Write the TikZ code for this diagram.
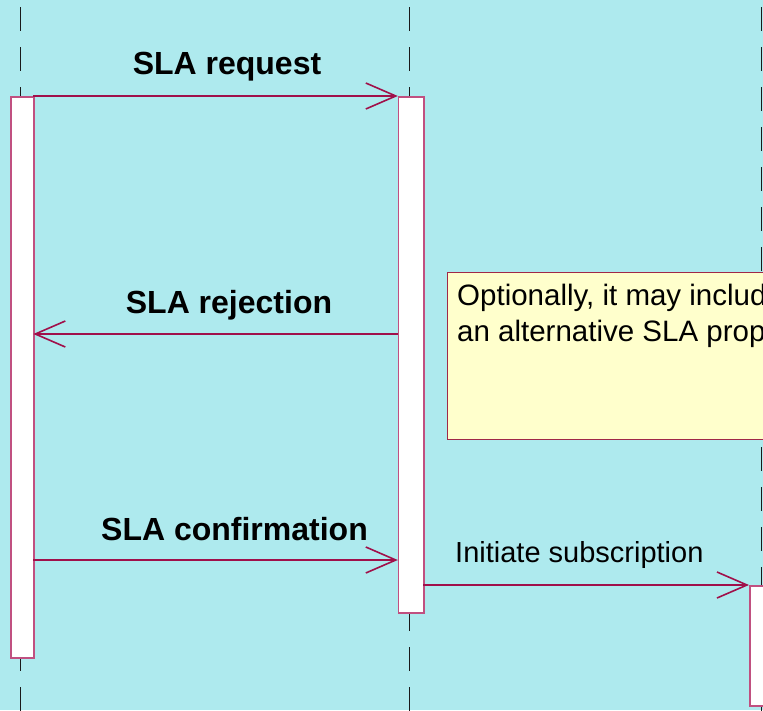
\documentclass[tikz,border=0pt]{standalone}
\usepackage{fontspec}
\setmainfont{Liberation Sans}
\usetikzlibrary{arrows.meta}
\definecolor{bgcyan}{HTML}{AEEAEE}
\definecolor{msgred}{HTML}{A0104A}
\definecolor{actborder}{HTML}{C05080}
\definecolor{noteborder}{HTML}{A02848}
\definecolor{notefill}{HTML}{FFFFCC}
\tikzset{
  lifeline/.style={draw=black!90, line width=1.4pt, dash pattern=on 24pt off 16pt},
  activation/.style={draw=actborder, fill=white, line width=1.6pt, inner sep=0pt, anchor=north west},
  msg/.style={draw=msgred, line width=1.3pt, -{Straight Barb[length=30pt,width=26pt,line width=1.6pt]}},
  msglabel/.style={font=\fontsize{32}{36}\selectfont\bfseries, anchor=base, inner sep=0pt},
  plainlabel/.style={font=\fontsize{29}{36}\selectfont, anchor=base west, inner sep=0pt},
  notetext/.style={font=\fontsize{29.5}{36}\selectfont, anchor=base west, inner sep=0pt},
  notebox/.style={draw=noteborder, fill=notefill, line width=1.4pt, anchor=north west, inner sep=0pt}
}
\begin{document}
\begin{tikzpicture}[x=1pt,y=-1pt]
  \useasboundingbox (0,0) rectangle (763,710);
  \clip (0,0) rectangle (763,710);
  \fill[bgcyan] (0,0) rectangle (763,710);

  % lifelines
  \draw[lifeline] (20.7,7) -- (20.7,720);
  \draw[lifeline] (409.3,7) -- (409.3,720);
  \draw[lifeline] (761.5,7) -- (761.5,720);

  % note
  \node[notebox, minimum width=340pt, minimum height=167pt] (note) at (447,272) {};
  \node[notetext] (noteA) at (457,305) {Optionally, it may include};
  \node[notetext] (noteB) at (457,341) {an alternative SLA proposal};

  % activation bars
  \node[activation, minimum width=23pt, minimum height=561pt] (act1) at (10.3,96) {};
  \node[activation, minimum width=25.5pt, minimum height=516pt] (act2) at (397.8,96) {};
  \node[activation, minimum width=25pt, minimum height=120pt] (act3) at (749,585) {};

  % message end points
  \coordinate (reqS) at (33.3,96);
  \coordinate (reqE) at (397.8,96);
  \coordinate (rejS) at (397.8,334);
  \coordinate (rejE) at (33.3,334);
  \coordinate (conS) at (33.3,560);
  \coordinate (conE) at (397.8,560);
  \coordinate (subS) at (423.3,585);
  \coordinate (subE) at (749,585);

  \draw[msg] (reqS) -- (reqE);
  \draw[msg] (rejS) -- (rejE);
  \draw[msg] (conS) -- (conE);
  \draw[msg] (subS) -- (subE);

  % message labels
  \node[msglabel] (lreq) at (227,74) {SLA request};
  \node[msglabel] (lrej) at (229,313) {SLA rejection};
  \node[msglabel] (lcon) at (234.5,540) {SLA confirmation};
  \node[plainlabel] (lsub) at (455,562) {Initiate subscription};
\end{tikzpicture}
\end{document}
